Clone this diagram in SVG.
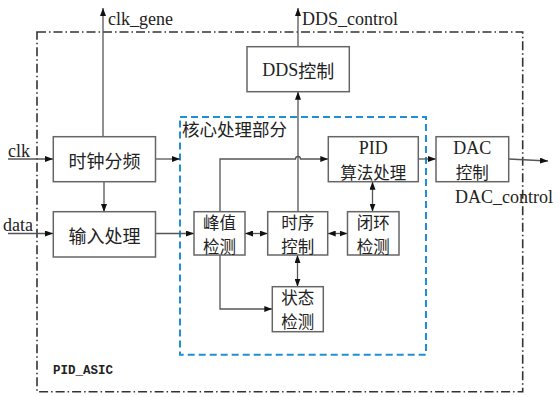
<svg xmlns="http://www.w3.org/2000/svg" width="559" height="397" viewBox="0 0 559 397">
<defs>
<style>
.box{fill:#fff;stroke:#666;stroke-width:1.5}
.ln{fill:none;stroke:#555;stroke-width:1.3}
.cn{font-family:"Noto Sans CJK SC","Liberation Serif",serif;font-size:18px;fill:#222;text-anchor:middle;dominant-baseline:central}
.c2{font-size:16.5px}
.lt{font-family:"Liberation Serif","Noto Sans CJK SC",serif;font-size:18px;fill:#222}
.outer{fill:none;stroke:#333;stroke-width:1.6;stroke-dasharray:9 3 1.5 3}
.core{fill:none;stroke:#1f8fd6;stroke-width:2;stroke-dasharray:7 4}
</style>
<marker id="ah" markerUnits="userSpaceOnUse" markerWidth="8" markerHeight="6" refX="8" refY="3" orient="auto-start-reverse">
<path d="M0,0 L8,3 L0,6 z" fill="#111"/>
</marker>
</defs>
<rect width="559" height="397" fill="#fff"/>
<rect class="outer" x="37" y="32" width="485.7" height="359.7"/>
<rect class="core" x="180" y="117" width="246" height="237.7"/>
<text x="53" y="374" style="font-family:'Liberation Mono',monospace;font-size:12.5px;fill:#222;font-weight:bold">PID_ASIC</text>
<text class="lt" x="182" y="136" style="font-family:'Noto Sans CJK SC',sans-serif;font-size:17.5px">核心处理部分</text>

<g id="connectors">
<line class="ln" x1="103" y1="137" x2="103" y2="8" marker-end="url(#ah)"/>
<line class="ln" x1="298" y1="47" x2="298" y2="8" marker-end="url(#ah)"/>
<line class="ln" x1="8" y1="159" x2="53" y2="159" marker-end="url(#ah)"/>
<line class="ln" x1="8" y1="233.5" x2="53" y2="233.5" marker-end="url(#ah)"/>
<line class="ln" x1="104" y1="182" x2="104" y2="212" marker-end="url(#ah)"/>
<line class="ln" x1="155.5" y1="159" x2="180" y2="159" marker-end="url(#ah)"/>
<line class="ln" x1="155.5" y1="233.5" x2="194" y2="233.5" marker-end="url(#ah)"/>
<line class="ln" x1="418.3" y1="159" x2="436" y2="159" marker-end="url(#ah)"/>
<line class="ln" x1="508.7" y1="159" x2="548" y2="161" marker-end="url(#ah)"/>
<path class="ln" d="M220,211.7 V159 H295.5 A2.5,2.5 0 0 1 300.5,159 H328.3" marker-end="url(#ah)"/>
<line class="ln" x1="298" y1="211.7" x2="298" y2="91.7" marker-end="url(#ah)"/>
<line class="ln" x1="245" y1="233.5" x2="267.7" y2="233.5" marker-start="url(#ah)" marker-end="url(#ah)"/>
<line class="ln" x1="327.7" y1="233.5" x2="347.5" y2="233.5" marker-start="url(#ah)" marker-end="url(#ah)"/>
<line class="ln" x1="372.5" y1="181.7" x2="372.5" y2="211.7" marker-start="url(#ah)" marker-end="url(#ah)"/>
<line class="ln" x1="297.5" y1="255" x2="297.5" y2="286.7" marker-start="url(#ah)" marker-end="url(#ah)"/>
<path class="ln" d="M220,255 V309 H272.3" marker-end="url(#ah)"/>
</g>

<g id="labels">
<text class="lt" x="108" y="25">clk_gene</text>
<text class="lt" x="302" y="25">DDS_control</text>
<text class="lt" x="8" y="156.5">clk</text>
<text class="lt" x="3" y="230.5">data</text>
<text class="lt" x="455" y="203">DAC_control</text>
</g>

<g id="clkdiv"><rect class="box" x="53.3" y="136.7" width="102.2" height="45"/><text class="cn" x="104.4" y="159.5">时钟分频</text></g>
<g id="input"><rect class="box" x="53.3" y="211.7" width="102.2" height="45.3"/><text class="cn" x="104.4" y="234.5">输入处理</text></g>
<g id="dds"><rect class="box" x="247" y="46.7" width="102.3" height="45"/><text class="cn" x="298.2" y="69.5"><tspan style="font-family:'Liberation Serif',serif">DDS</tspan>控制</text></g>
<g id="pid"><rect class="box" x="328.3" y="136.7" width="90" height="45"/><text class="cn" x="373.3" y="148" style="font-family:'Liberation Serif',serif">PID</text><text class="cn c2" x="373.3" y="171.5">算法处理</text></g>
<g id="dac"><rect class="box" x="436" y="136.7" width="72.7" height="45"/><text class="cn" x="472.3" y="147.5" style="font-family:'Liberation Serif',serif">DAC</text><text class="cn c2" x="472.3" y="171.5">控制</text></g>
<g id="peak"><rect class="box" x="194" y="211.7" width="51" height="43.3"/><text class="cn c2" x="219.5" y="222">峰值</text><text class="cn c2" x="219.5" y="246">检测</text></g>
<g id="timing"><rect class="box" x="267.7" y="211.7" width="60" height="43.3"/><text class="cn c2" x="297.7" y="222">时序</text><text class="cn c2" x="297.7" y="246">控制</text></g>
<g id="loop"><rect class="box" x="347.5" y="211.7" width="51.5" height="43.3"/><text class="cn c2" x="373.2" y="222">闭环</text><text class="cn c2" x="373.2" y="246">检测</text></g>
<g id="state"><rect class="box" x="272.3" y="286.7" width="51" height="45"/><text class="cn c2" x="297.8" y="297">状态</text><text class="cn c2" x="297.8" y="321">检测</text></g>
</svg>
